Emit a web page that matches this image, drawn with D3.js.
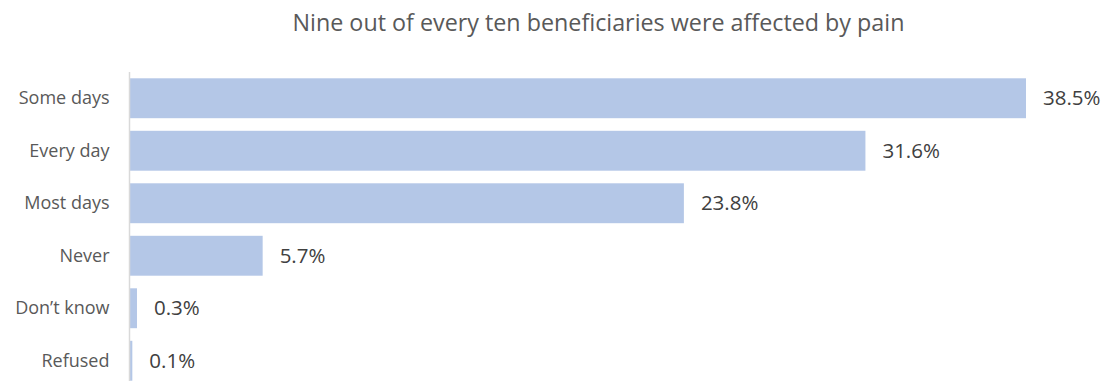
<!DOCTYPE html>
<html>
<head>
<meta charset="utf-8">
<script src="https://cdn.jsdelivr.net/npm/d3@7"></script>
<style>
  html, body { margin: 0; padding: 0; background: #fff; }
  svg { display: block; font-family: "Open Sans", sans-serif; }
</style>
</head>
<body>
<svg id="chart" width="1105" height="381"></svg>
<script>
// Pain frequency among beneficiaries (percent of respondents)
const categories = ["Some days", "Every day", "Most days", "Never", "Don\u2019t know", "Refused"];
const values = [38.5, 31.6, 23.8, 5.7, 0.3, 0.1];
const valueLabels = ["38.5%", "31.6%", "23.8%", "5.7%", "0.3%", "0.1%"];
const title = "Nine out of every ten beneficiaries were affected by pain";

const svg = d3.select("#chart");
const margin = { left: 130, top: 72 };
const plotRight = 1026;
const plotBottom = 387;

const x = d3.scaleLinear()
  .domain([0, d3.max(values)])
  .range([margin.left, plotRight]);

const y = d3.scaleBand()
  .domain(categories)
  .range([margin.top, plotBottom])
  .paddingInner(0.24)
  .paddingOuter(0.12);

// Title
svg.append("text")
  .attr("x", 598.5)
  .attr("y", 31)
  .attr("text-anchor", "middle")
  .attr("fill", "#595959")
  .style("font-size", "23.3px")
  .text(title);

// Bars
svg.append("g")
  .selectAll("rect")
  .data(values)
  .join("rect")
  .attr("x", x(0))
  .attr("y", (d, i) => y(categories[i]))
  .attr("width", d => x(d) - x(0))
  .attr("height", y.bandwidth())
  .attr("fill", "#b4c7e7");

// Category axis
const yAxis = svg.append("g")
  .attr("transform", `translate(${margin.left - 0.5},0)`)
  .call(d3.axisLeft(y).tickSize(0).tickPadding(20));
yAxis.select(".domain")
  .attr("stroke", "#d9d9d9")
  .attr("stroke-width", 1.5)
  .attr("d", `M0,${margin.top}V${plotBottom}`);
yAxis.selectAll("text")
  .attr("fill", "#595959")
  .style("font-size", "18px")
  .style("font-family", "\"Open Sans\", sans-serif");

// Value labels
svg.append("g")
  .selectAll("text")
  .data(values)
  .join("text")
  .attr("x", d => x(d) + 17)
  .attr("y", (d, i) => y(categories[i]) + y.bandwidth() / 2)
  .attr("dy", "0.35em")
  .attr("fill", "#404040")
  .style("font-size", "20.5px")
  .text((d, i) => valueLabels[i]);
</script>
</body>
</html>
